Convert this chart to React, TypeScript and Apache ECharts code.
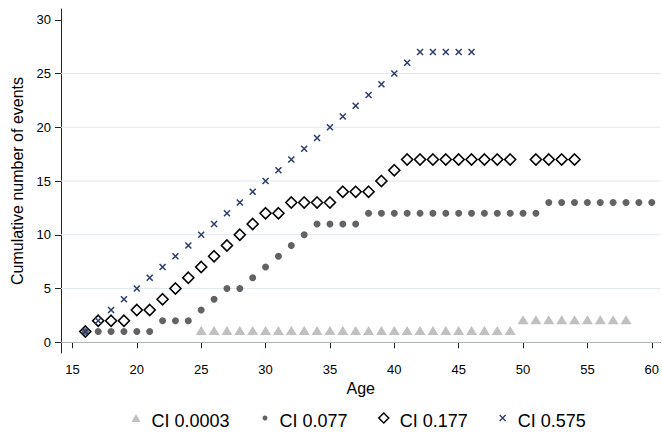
import React, { useEffect, useRef } from "react";
import * as echarts from "echarts";

const FONT = '"Liberation Sans", Arial, Helvetica, sans-serif';

// Tick labels
const xTicks = [15, 20, 25, 30, 35, 40, 45, 50, 55, 60];
const yTicks = [0, 5, 10, 15, 20, 25, 30];
const gridValues = [0, 5, 10, 15, 20, 25];

// Series names
const seriesNames = ["CI 0.0003", "CI 0.077", "CI 0.177", "CI 0.575"];

// CI 0.0003 (triangles)
const triAges = [25, 26, 27, 28, 29, 30, 31, 32, 33, 34, 35, 36, 37, 38, 39, 40, 41, 42, 43, 44, 45, 46, 47, 48, 49, 50, 51, 52, 53, 54, 55, 56, 57, 58];
const triValues = [1, 1, 1, 1, 1, 1, 1, 1, 1, 1, 1, 1, 1, 1, 1, 1, 1, 1, 1, 1, 1, 1, 1, 1, 1, 2, 2, 2, 2, 2, 2, 2, 2, 2];

// CI 0.077 (dots)
const dotAges = [16, 17, 18, 19, 20, 21, 22, 23, 24, 25, 26, 27, 28, 29, 30, 31, 32, 33, 34, 35, 36, 37, 38, 39, 40, 41, 42, 43, 44, 45, 46, 47, 48, 49, 50, 51, 52, 53, 54, 55, 56, 57, 58, 59, 60];
const dotValues = [1, 1, 1, 1, 1, 1, 2, 2, 2, 3, 4, 5, 5, 6, 7, 8, 9, 10, 11, 11, 11, 11, 12, 12, 12, 12, 12, 12, 12, 12, 12, 12, 12, 12, 12, 12, 13, 13, 13, 13, 13, 13, 13, 13, 13];

// CI 0.177 (hollow diamonds)
const diaAges = [16, 17, 18, 19, 20, 21, 22, 23, 24, 25, 26, 27, 28, 29, 30, 31, 32, 33, 34, 35, 36, 37, 38, 39, 40, 41, 42, 43, 44, 45, 46, 47, 48, 49, 51, 52, 53, 54];
const diaValues = [1, 2, 2, 2, 3, 3, 4, 5, 6, 7, 8, 9, 10, 11, 12, 12, 13, 13, 13, 13, 14, 14, 14, 15, 16, 17, 17, 17, 17, 17, 17, 17, 17, 17, 17, 17, 17, 17];

// CI 0.575 (crosses)
const crossAges = [16, 17, 18, 19, 20, 21, 22, 23, 24, 25, 26, 27, 28, 29, 30, 31, 32, 33, 34, 35, 36, 37, 38, 39, 40, 41, 42, 43, 44, 45, 46];
const crossValues = [1, 2, 3, 4, 5, 6, 7, 8, 9, 10, 11, 12, 13, 14, 15, 16, 17, 18, 19, 20, 21, 22, 23, 24, 25, 26, 27, 27, 27, 27, 27];

const TRI_COLOR = "#c0c0c0";
const DOT_COLOR = "#636363";
const DIA_COLOR = "#000000";
const CROSS_COLOR = "#2a3b6b";
const GRID_COLOR = "#e1e9ec";
const CROSS_PATH = "path://M0,0L10,10M0,10L10,0";

const X_MIN = 14.11;
const X_MAX = 60.68;

const pairs = (xs: number[], ys: number[]) => xs.map((x, i) => [x, ys[i]]);

export default function App() {
  const ref = useRef<HTMLDivElement>(null);

  useEffect(() => {
    if (!ref.current) return;
    const chart = echarts.init(ref.current, undefined, { renderer: "svg" });

    const legendItem = (left: number, w: number, h: number, gap: number, item: any) => ({
      top: 412,
      left,
      padding: 0,
      orient: "horizontal" as const,
      selectedMode: false,
      itemWidth: w,
      itemHeight: h,
      formatter: "{t|{name}}",
      textStyle: {
        fontFamily: FONT,
        fontSize: 18,
        color: "#000",
        rich: { t: { fontFamily: FONT, fontSize: 18, color: "#000", padding: [6, 0, 0, gap] } },
      },
      data: [item],
    });

    chart.setOption({
      animation: false,
      backgroundColor: "#ffffff",
      textStyle: { fontFamily: FONT },
      grid: { left: 61, right: 0, top: 9, bottom: 82, containLabel: false },
      xAxis: {
        type: "value",
        min: X_MIN,
        max: X_MAX,
        name: "Age",
        nameLocation: "middle",
        nameGap: 24,
        nameTextStyle: { fontFamily: FONT, fontSize: 16, color: "#000" },
        axisLine: { show: true, lineStyle: { color: "#222", width: 1 } },
        axisTick: { show: true, length: 6, inside: false, customValues: xTicks, lineStyle: { color: "#222", width: 1 } },
        axisLabel: { show: true, margin: 10, customValues: xTicks, fontFamily: FONT, fontSize: 13, color: "#000" },
        splitLine: { show: false },
      },
      yAxis: {
        type: "value",
        min: -1,
        max: 31,
        name: "Cumulative number of events",
        nameLocation: "middle",
        nameGap: 36,
        nameTextStyle: { fontFamily: FONT, fontSize: 16, color: "#000" },
        axisLine: { show: true, lineStyle: { color: "#222", width: 1 } },
        axisTick: { show: true, length: 6, inside: false, customValues: yTicks, lineStyle: { color: "#222", width: 1 } },
        axisLabel: { show: true, margin: 10, customValues: yTicks, fontFamily: FONT, fontSize: 13, color: "#000" },
        splitLine: { show: false },
      },
      legend: [
        legendItem(131.5, 9, 8, 6, { name: seriesNames[0], icon: "triangle", itemStyle: { color: TRI_COLOR, borderWidth: 0 } }),
        legendItem(262.5, 5, 5, 7, { name: seriesNames[1], icon: "circle", itemStyle: { color: DOT_COLOR, borderWidth: 0 } }),
        legendItem(378, 10, 10, 6, {
          name: seriesNames[2],
          icon: "diamond",
          itemStyle: { color: "rgba(0,0,0,0)", borderColor: DIA_COLOR, borderWidth: 1.5 },
        }),
        legendItem(499, 6, 6, 7, {
          name: seriesNames[3],
          icon: CROSS_PATH,
          itemStyle: { color: "rgba(0,0,0,0)", borderColor: CROSS_COLOR, borderWidth: 1.3 },
        }),
      ],
      series: [
        {
          type: "custom",
          name: "grid",
          silent: true,
          z: 1,
          clip: false,
          data: gridValues.map((v) => [X_MIN, v]),
          encode: { x: 0, y: 1 },
          renderItem: (params: any, api: any) => {
            const y = api.coord([api.value(0), api.value(1)])[1];
            const cs = params.coordSys;
            return {
              type: "line",
              shape: { x1: cs.x, y1: y, x2: cs.x + cs.width, y2: y },
              style: { stroke: GRID_COLOR, lineWidth: 1 },
            };
          },
        },
        {
          type: "scatter",
          name: seriesNames[0],
          data: pairs(triAges, triValues),
          symbol: "triangle",
          symbolSize: [11, 9],
          symbolOffset: [0, -1],
          z: 3,
          itemStyle: { color: TRI_COLOR, opacity: 1 },
        },
        {
          type: "scatter",
          name: seriesNames[1],
          data: pairs(dotAges, dotValues),
          symbol: "circle",
          symbolSize: 7,
          z: 3,
          itemStyle: { color: DOT_COLOR, opacity: 1 },
        },
        {
          type: "scatter",
          name: seriesNames[2],
          data: pairs(diaAges, diaValues),
          symbol: "diamond",
          symbolSize: 11,
          z: 3,
          itemStyle: { color: "rgba(0,0,0,0)", borderColor: DIA_COLOR, borderWidth: 1.6, opacity: 1 },
        },
        {
          type: "scatter",
          name: seriesNames[3],
          data: pairs(crossAges, crossValues),
          symbol: CROSS_PATH,
          symbolSize: 6,
          z: 3,
          itemStyle: { color: "rgba(0,0,0,0)", borderColor: CROSS_COLOR, borderWidth: 1.5, opacity: 1 },
        },
      ],
    });

    return () => {
      chart.dispose();
    };
  }, []);

  return (
    <div
      ref={ref}
      style={{ position: "fixed", left: 0, top: 0, width: 662, height: 435, background: "#fff" }}
    />
  );
}
